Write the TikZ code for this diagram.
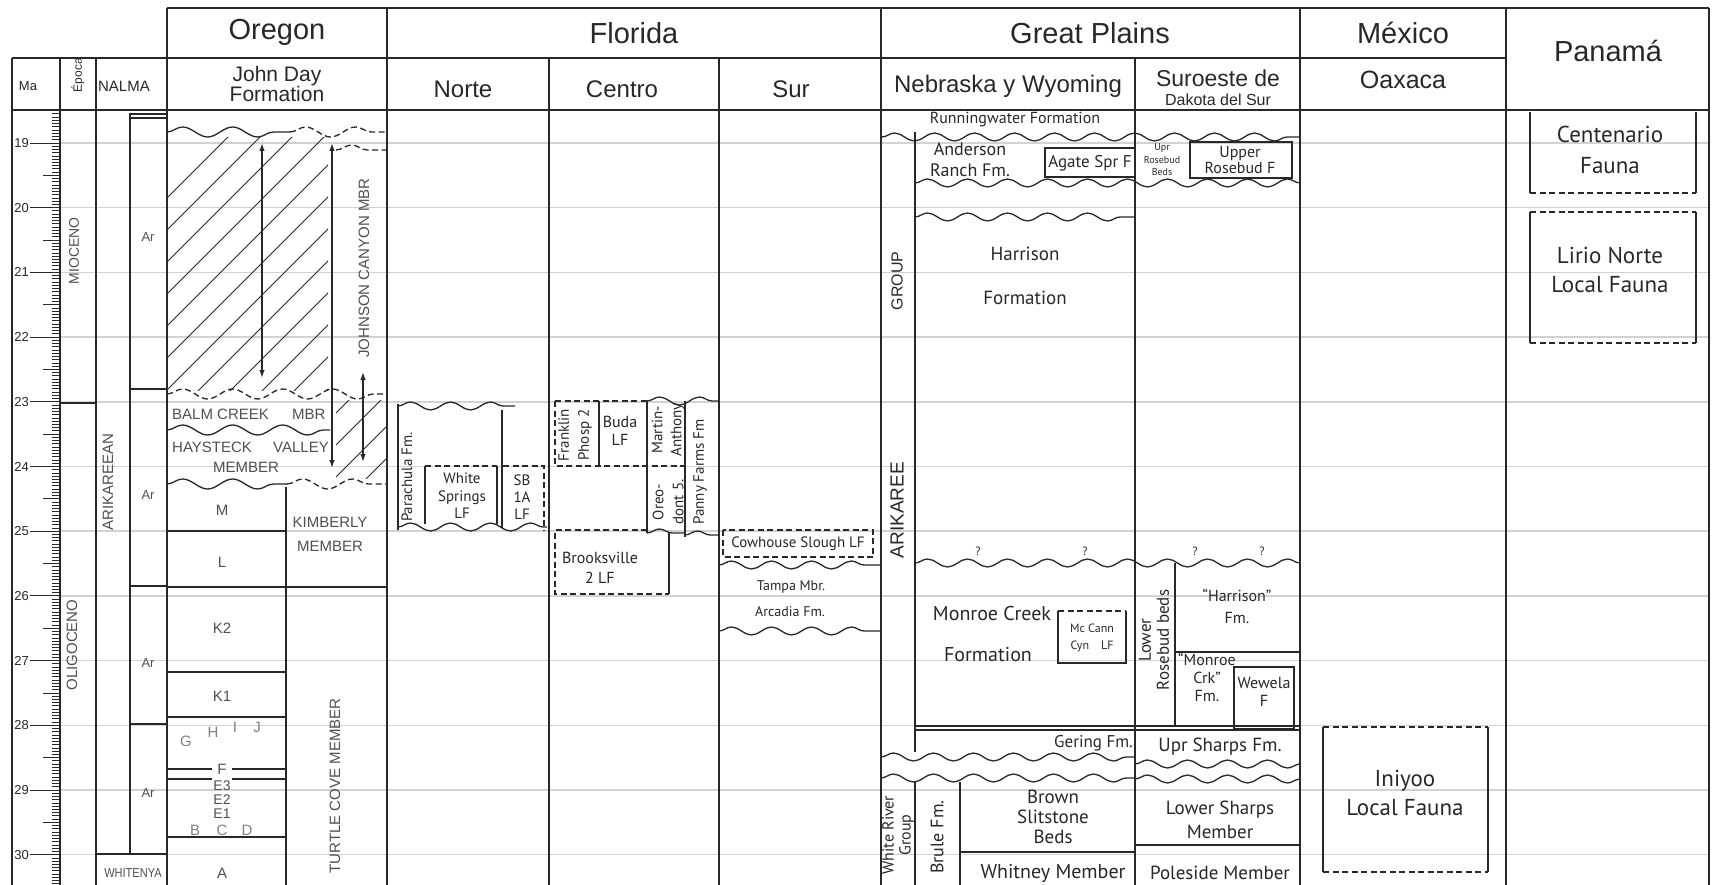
\documentclass[tikz,border=0pt]{standalone}
\usepackage{fontspec}
\setmainfont{Liberation Sans}
\newfontfamily\arialf{Liberation Sans}
\newfontfamily\myrf{PT Sans}
\usetikzlibrary{arrows.meta, decorations.pathmorphing}
\definecolor{inkc}{RGB}{40,40,40}
\definecolor{gridc}{RGB}{210,210,210}
\definecolor{softc}{RGB}{80,80,80}
\newcommand\fa[2]{\arialf\fontsize{#1}{#2}\selectfont}
\newcommand\fm[2]{\myrf\fontsize{#1}{#2}\selectfont}
\tikzset{
  frame/.style={draw=inkc, line width=1.7pt},
  bed/.style={draw=inkc, line width=1.3pt},
  dsh/.style={dash pattern=on 6pt off 3.5pt},
  wavy/.style={bed, decorate, decoration={snake, amplitude=4pt, segment length=40pt}},
  wavyO/.style={bed, decorate, decoration={snake, amplitude=5pt, segment length=50pt}},
  gridln/.style={draw=gridc, line width=1.5pt},
  tick/.style={draw=inkc, line width=0.9pt},
  hatch/.style={draw=inkc, line width=0.9pt},
  txt/.style={inner sep=0pt, text=inkc, align=center},
  big/.style={txt, font=\fa{29}{31}},
  sub/.style={txt, font=\fa{24}{24}},
  capt/.style={txt, text=softc, font=\fa{15}{24}},
  lbl/.style 2 args={txt, font=\fm{#1}{#2}},
}

\begin{document}
\begin{tikzpicture}[x=1pt, y=-1pt, >={Latex[length=8pt,width=5.5pt]}]
\useasboundingbox[fill=white] (0,0) rectangle (1712,885);

% Ma scale and grid
\foreach \m in {19,...,30}{
  \draw[gridln] (60,{143+64.7*(\m-19)}) -- (1709,{143+64.7*(\m-19)});
  \draw[tick] (30,{143+64.7*(\m-19)}) -- (60,{143+64.7*(\m-19)});
  \node[txt, font=\fa{13}{13}, anchor=east] (ma\m) at (29,{143+64.7*(\m-19)}) {\m};
}
\foreach \i in {0,...,238}{
  \pgfmathsetmacro\yy{113.9+3.235*\i}
  \pgfmathtruncatemacro\rr{mod(\i+1,10)}
  \ifnum\rr=0 \draw[tick] (43,\yy) -- (60,\yy);
  \else \draw[tick] (52,\yy) -- (60,\yy); \fi
}

% hatching, John Day
\begin{scope}
  \clip (168,138) rectangle (328,390);
  \foreach \k in {-135,-103,...,400} \draw[hatch] (\k,500) -- ++(420,-420);
\end{scope}
\begin{scope}
  \clip (336,400) rectangle (386,478);
  \foreach \k in {-135,-103,...,400} \draw[hatch] (\k,500) -- ++(420,-420);
\end{scope}

% frame
\draw[frame] (167,8) -- (1709,8);
\draw[frame] (12,58) -- (1506,58);
\draw[frame] (12,110) -- (1709,110);
\foreach \x in {12,60,96,167,387,881,1300,1506,1709} \draw[frame] (\x,58) -- (\x,885);
\foreach \x in {167,387,881,1300,1506,1709} \draw[frame] (\x,8) -- (\x,58);
\foreach \x in {549,719,1135} \draw[frame] (\x,58) -- (\x,885);

% headers
\node[big] (hOre) at (277,32) {Oregon};
\node[big] (hFlo) at (634,33) {Florida};
\node[big] (hGP) at (1090,33) {Great Plains};
\node[big] (hMex) at (1403,33) {México};
\node[big] (hPan) at (1608,51) {Panamá};
\node[txt, font=\fa{13}{13}] (hMa) at (28,86) {Ma};
\node[txt, font=\fa{12}{12}, rotate=90] (hEpo) at (78,75) {Época};
\node[txt, font=\fa{15}{15}] (hNal) at (124,86) {NALMA};
\node[txt, font=\fa{21}{19}] (hJD) at (277,84) {John Day\\Formation};
\node[sub] (hNor) at (463,89) {Norte};
\node[sub] (hCen) at (622,89) {Centro};
\node[sub] (hSur) at (791,89) {Sur};
\node[sub] (hNW) at (1008,86) {Nebraska y Wyoming};
\node[txt, font=\fa{23}{23}] (hSD) at (1218,78) {Suroeste de};
\node[txt, font=\fa{16}{16}] (hSDb) at (1218,100) {Dakota del Sur};
\node[txt, font=\fa{25}{25}] (hOax) at (1403,80) {Oaxaca};

% epochs and NALMA
\draw[frame] (60,403) -- (96,403);
\node[capt, rotate=90, font=\fa{14}{14}] (ePMio) at (74,251) {MIOCENO};
\node[capt, rotate=90, font=\fa{15}{15}] (ePOli) at (72,645) {OLIGOCENO};
\draw[bed] (130,113) -- (130,854);
\draw[bed] (130,114) -- (167,114);
\draw[bed] (130,118) -- (167,118);
\draw[bed] (130,389) -- (167,389);
\draw[bed] (130,586) -- (167,586);
\draw[bed] (130,724) -- (167,724);
\draw[bed] (96,854) -- (167,854);
\node[capt, font=\fa{13}{13}] (ar1) at (148,237) {Ar};
\node[capt, font=\fa{13}{13}] (ar2) at (148,495) {Ar};
\node[capt, font=\fa{13}{13}] (ar3) at (148,663) {Ar};
\node[capt, font=\fa{13}{13}] (ar4) at (148,793) {Ar};
\node[capt, rotate=90] (nArk) at (108,482) {ARIKAREEAN};
\node[capt, font=\fa{13}{13}, xscale=0.85] (nWhi) at (133,873) {WHITENYA};

% Oregon, John Day Formation
\draw[wavyO] (167,132) -- (290,132);
\draw[wavyO, dsh] (290,132) -- (387,132);
\draw[wavyO, dsh] (336,150) -- (387,150);
\draw[wavyO, dsh] (167,394) -- (387,394);
\draw[wavyO] (167,430) -- (330,430);
\draw[wavyO] (167,484) -- (287,484);
\draw[wavyO, dsh] (287,484) -- (387,484);
\draw[bed, <->] (262,143) -- (262,378);
\draw[bed, <->] (332,143) -- (332,468);
\draw[bed, <->] (363,372) -- (363,462);
\draw[bed] (286,487) -- (286,885);
\draw[bed] (167,531) -- (286,531);
\draw[bed] (167,587) -- (387,587);
\draw[bed] (167,672) -- (286,672);
\draw[bed] (167,717) -- (286,717);
\draw[bed] (167,769) -- (212,769);
\draw[bed] (232,769) -- (286,769);
\draw[bed] (167,779) -- (212,779);
\draw[bed] (232,779) -- (286,779);
\draw[bed] (167,837) -- (286,837);
\node[capt, rotate=90] (oJC) at (364,268) {JOHNSON CANYON MBR};
\node[capt, anchor=west] (oBC) at (172,414) {BALM CREEK};
\node[capt, anchor=west] (oBCm) at (292,414) {MBR};
\node[capt, anchor=west] (oHV) at (172,447) {HAYSTECK};
\node[capt, anchor=west] (oHVv) at (273,447) {VALLEY};
\node[capt] (oHVm) at (246,467) {MEMBER};
\node[capt] (oM) at (222,510) {M};
\node[capt] (oL) at (222,562) {L};
\node[capt] (oKim) at (330,534) {KIMBERLY\\MEMBER};
\node[capt] (oK2) at (222,628) {K2};
\node[capt] (oK1) at (222,696) {K1};
\node[capt, text=gray] (oG) at (186,741) {G};
\node[capt, text=gray] (oH) at (213,732) {H};
\node[capt, text=gray] (oI) at (235,727) {I};
\node[capt, text=gray] (oJ) at (257,727) {J};
\node[capt] (oF) at (222,769) {F};
\node[capt, font=\fa{14}{14}] (oE) at (222,800) {E3\\E2\\E1};
\node[capt, text=gray] (oB) at (195,830) {B};
\node[capt, text=gray] (oC) at (222,830) {C};
\node[capt, text=gray] (oD) at (247,830) {D};
\node[capt] (oA) at (222,873) {A};
\node[capt, rotate=90] (oTC) at (335,786) {TURTLE COVE MEMBER};

% Florida, Norte
\draw[wavy] (398,406) -- (515,406);
\draw[wavy] (398,527) -- (547,527);
\draw[bed] (398,404) -- (398,530);
\draw[bed] (502,410) -- (502,528);
\draw[bed, dsh] (425,466) -- (497,466);
\draw[bed] (425,466) -- (425,524);
\draw[bed] (497,466) -- (497,524);
\draw[bed, dsh] (503,466) -- (544,466) -- (544,530);
\node[lbl={15}{15}, rotate=90] (fPar) at (407,477) {Parachula Fm.};
\node[lbl={15}{17.5}] (fWS) at (462,496) {White\\Springs\\LF};
\node[lbl={15}{17}] (fSB) at (522,497) {SB\\1A\\LF};

% Florida, Centro
\draw[bed, dsh] (555,401) -- (647,401);
\draw[wavy] (647,401) -- (719,401);
\draw[bed, dsh] (555,401) -- (555,466) -- (685,466);
\draw[bed] (599,401) -- (599,466);
\draw[bed] (647,401) -- (647,533);
\draw[bed] (685,401) -- (685,537);
\draw[wavy] (647,533) -- (685,533);
\draw[wavy] (685,535) -- (719,535);
\draw[bed, dsh] (647,530) -- (555,530) -- (555,594) -- (669,594);
\draw[bed] (669,533) -- (669,594);
\node[lbl={15}{20}, rotate=90] (fFra) at (575,435) {Franklin\\Phosp 2};
\node[lbl={16}{18}] (fBud) at (620,431) {Buda\\LF};
\node[lbl={15}{19}, rotate=90] (fMar) at (668,430) {Martin-\\Anthony};
\node[lbl={15}{20}, rotate=90] (fOre) at (668,502) {Oreo-\\dont 5.};
\node[lbl={15}{15}, rotate=90] (fPan) at (700,472) {Panny Farms Fm};
\node[lbl={16}{20}] (fBro) at (600,568) {Brooksville\\2 LF};

% Florida, Sur
\draw[bed, dsh] (723,530) rectangle (873,557);
\draw[wavy] (719,565) -- (881,565);
\draw[wavy] (719,631) -- (881,631);
\node[lbl={15}{15}] (fCow) at (798,544) {Cowhouse Slough LF};
\node[lbl={14}{14}] (fTam) at (791,587) {Tampa Mbr.};
\node[lbl={14}{14}] (fArc) at (790,612) {Arcadia Fm.};

% Great Plains, Nebraska y Wyoming
\draw[wavy] (882,137) -- (1300,137);
\draw[wavy] (915,183) -- (1300,183);
\draw[wavy] (915,217) -- (1135,217);
\draw[wavy] (915,563) -- (1300,563);
\draw[bed] (915,132) -- (915,752);
\draw[bed] (1045,148) rectangle (1135,177);
\draw[bed, dsh] (1058,611) -- (1126,611);
\draw[bed] (1058,611) -- (1058,663) -- (1126,663) -- (1126,611);
\draw[bed] (915,726) -- (1300,726);
\draw[bed] (915,730) -- (1300,730);
\draw[wavy] (881,757) -- (1135,757);
\draw[wavy] (881,778) -- (1135,778);
\draw[bed] (915,782) -- (915,885);
\draw[bed] (960,782) -- (960,885);
\draw[bed] (960,852) -- (1135,852);
\node[txt, font=\fa{16}{16}, rotate=90] (gGro) at (897,281) {GROUP};
\node[txt, font=\fa{19}{19}, rotate=90] (gArk) at (897,510) {ARIKAREE};
\node[lbl={16}{16}] (gRun) at (1015,120) {Runningwater Formation};
\node[lbl={18}{21}] (gAnd) at (970,160) {Anderson\\Ranch Fm.};
\node[lbl={17}{17}] (gAga) at (1090,163) {Agate Spr F};
\node[lbl={19}{19}] (gHar) at (1025,254) {Harrison};
\node[lbl={19}{19}] (gHarF) at (1025,298) {Formation};
\node[lbl={12}{12}] (gQa) at (978,551) {?};
\node[lbl={12}{12}] (gQb) at (1085,551) {?};
\node[lbl={20}{20}] (gMon) at (992,613) {Monroe Creek};
\node[lbl={20}{20}] (gMonF) at (988,655) {Formation};
\node[lbl={12}{17}] (gMcC) at (1092,638) {Mc Cann\\Cyn\quad LF};
\node[lbl={17}{17}, anchor=east] (gGer) at (1133,743) {Gering Fm.};
\node[lbl={16}{17}, rotate=90] (gWRG) at (898,835) {White River\\Group};
\node[lbl={18}{18}, rotate=90] (gBru) at (937,837) {Brule Fm.};
\node[lbl={19}{20}] (gBSB) at (1053,817) {Brown\\Slitstone\\Beds};
\node[lbl={20}{20}] (gWhi) at (1053,873) {Whitney Member};

% Great Plains, Suroeste de Dakota del Sur
\draw[bed] (1190,142) rectangle (1292,178);
\draw[bed] (1175,563) -- (1175,726);
\draw[bed] (1175,652) -- (1300,652);
\draw[bed] (1234,667) rectangle (1294,729);
\draw[wavy] (1135,764) -- (1300,764);
\draw[wavy] (1135,779) -- (1300,779);
\draw[bed] (1135,845) -- (1300,845);
\node[lbl={10}{12.5}] (sURB) at (1162,160) {Upr\\Rosebud\\Beds};
\node[lbl={16}{13}] (sUR) at (1240,160) {Upper\\Rosebud F};
\node[lbl={12}{12}] (sQa) at (1195,551) {?};
\node[lbl={12}{12}] (sQb) at (1262,551) {?};
\node[lbl={17}{18}, rotate=90] (sLRB) at (1154,640) {Lower\\Rosebud beds};
\node[lbl={16}{22}] (sHar) at (1237,606) {“Harrison”\\Fm.};
\node[lbl={16}{18}] (sMon) at (1207,677) {“Monroe\\Crk”\\Fm.};
\node[lbl={16}{18}] (sWew) at (1264,692) {Wewela\\F};
\node[lbl={19}{19}] (sUS) at (1220,747) {Upr Sharps Fm.};
\node[lbl={19}{24}] (sLS) at (1220,820) {Lower Sharps\\Member};
\node[lbl={19}{19}] (sPol) at (1220,873) {Poleside Member};

% Mexico, Oaxaca
\draw[bed, dsh] (1323,727) -- (1488,727);
\draw[bed, dsh] (1323,872) -- (1488,872);
\draw[bed] (1323,727) -- (1323,872);
\draw[bed] (1488,727) -- (1488,872);
\node[lbl={23}{29}] (mIni) at (1405,793) {Iniyoo\\Local Fauna};

% Panama
\draw[bed] (1530,112) -- (1530,193);
\draw[bed] (1696,112) -- (1696,193);
\draw[bed, dsh] (1530,193) -- (1696,193);
\draw[bed, dsh] (1530,212) -- (1696,212);
\draw[bed, dsh] (1530,343) -- (1696,343);
\draw[bed] (1530,212) -- (1530,343);
\draw[bed] (1696,212) -- (1696,343);
\node[lbl={23}{31}] (pCen) at (1610,150) {Centenario\\Fauna};
\node[lbl={23}{29}] (pLir) at (1610,270) {Lirio Norte\\Local Fauna};

\end{tikzpicture}
\end{document}
